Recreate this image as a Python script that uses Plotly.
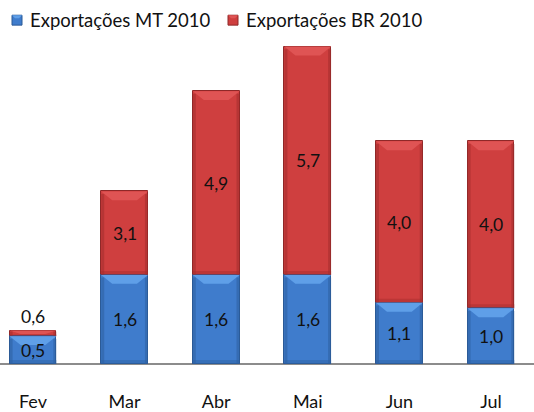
import plotly.graph_objects as go

# Monthly exports, 2010 (Mato Grosso vs. Brazil total)
months = ["Fev", "Mar", "Abr", "Mai", "Jun", "Jul"]
exp_mt = [0.5, 1.6, 1.6, 1.6, 1.1, 1.0]
exp_br = [0.6, 3.1, 4.9, 5.7, 4.0, 4.0]
series_names = ["Exportações MT 2010", "Exportações BR 2010"]

def fmt(v):
    return f"{v:.1f}".replace(".", ",")

W, H = 534, 412
M_T, M_B = 40, 45
PLOT_H = H - M_T - M_B

xs = list(range(len(months)))
BAR_W = 0.51
PX_X = 91.6   # pixels per category unit
PX_Y = 56.2   # pixels per value unit
FONT = "Lato, Open Sans, sans-serif"

blue = dict(main="#3f7ccc", light="#5f9fe8", dark="#2d5f9f", line="#2b5a96")
red = dict(main="#cf3f3f", light="#df5454", dark="#a32d2d", line="#8f2828")

fig = go.Figure()
fig.add_trace(go.Bar(
    x=xs, y=exp_br, name=series_names[1], width=BAR_W,
    marker=dict(color=red["main"], line=dict(color=red["line"], width=1)),
    showlegend=False, hoverinfo="skip",
))
fig.add_trace(go.Bar(
    x=xs, y=exp_mt, name=series_names[0], width=BAR_W,
    marker=dict(color=blue["main"], line=dict(color=blue["line"], width=1)),
    showlegend=False, hoverinfo="skip",
))

shapes = []

def bevel(xc, y0, y1, pal):
    """Light top facet, dark side and bottom strips for one bar segment."""
    h = y1 - y0
    x0, x1 = xc - BAR_W / 2, xc + BAR_W / 2
    d = min(9 / PX_Y, h * 0.6)
    ix = 11 / PX_X
    sx = 3 / PX_X
    bd = min(4 / PX_Y, h * 0.3)
    shapes.append(dict(type="path", xref="x", yref="y", layer="above",
                       path=f"M{x0},{y1} L{x1},{y1} L{x1-ix},{y1-d} L{x0+ix},{y1-d} Z",
                       fillcolor=pal["light"], line=dict(width=0)))
    shapes.append(dict(type="rect", xref="x", yref="y", layer="above",
                       x0=x0, x1=x0 + sx, y0=y0, y1=y1 - d * 0.3,
                       fillcolor=pal["dark"], opacity=0.55, line=dict(width=0)))
    shapes.append(dict(type="rect", xref="x", yref="y", layer="above",
                       x0=x1 - sx, x1=x1, y0=y0, y1=y1 - d * 0.3,
                       fillcolor=pal["dark"], opacity=0.55, line=dict(width=0)))
    shapes.append(dict(type="rect", xref="x", yref="y", layer="above",
                       x0=x0, x1=x1, y0=y0, y1=y0 + bd,
                       fillcolor=pal["dark"], opacity=0.45, line=dict(width=0)))

annotations = []
LABEL_FONT = dict(family=FONT, size=17.5, color="#111111")
for x, mt, br in zip(xs, exp_mt, exp_br):
    bevel(x, mt, br, red)
    bevel(x, 0, mt, blue)
    annotations.append(dict(x=x, y=mt / 2, text=fmt(mt), showarrow=False,
                            font=LABEL_FONT))
    if br - mt < 0.4:
        annotations.append(dict(x=x, y=br, yshift=14, text=fmt(br), showarrow=False,
                                font=LABEL_FONT))
    else:
        annotations.append(dict(x=x, y=(mt + br) / 2, text=fmt(br), showarrow=False,
                                font=LABEL_FONT))

# Legend row across the top: beveled swatch + series name
def px_x(p):
    return p / W

def px_y(p):
    return (H - M_B - p) / PLOT_H

for (sx0, tx0), name, pal in zip([(12, 28), (228, 244)], series_names, [blue, red]):
    shapes.append(dict(type="rect", xref="paper", yref="paper",
                       x0=px_x(sx0), x1=px_x(sx0 + 10), y0=px_y(25), y1=px_y(15),
                       fillcolor=pal["main"], line=dict(color=pal["line"], width=1)))
    shapes.append(dict(type="path", xref="paper", yref="paper",
                       path=(f"M{px_x(sx0)},{px_y(15)} L{px_x(sx0 + 10)},{px_y(15)} "
                             f"L{px_x(sx0 + 7)},{px_y(18)} L{px_x(sx0 + 3)},{px_y(18)} Z"),
                       fillcolor=pal["light"], line=dict(width=0)))
    annotations.append(dict(x=px_x(tx0), y=px_y(20), xref="paper", yref="paper",
                            xanchor="left", yanchor="middle", text=name, showarrow=False,
                            font=dict(family=FONT, size=18.5, color="#111111")))

fig.update_layout(
    width=W, height=H,
    barmode="overlay",
    plot_bgcolor="white", paper_bgcolor="white",
    margin=dict(l=0, r=0, t=M_T, b=M_B),
    font=dict(family=FONT, size=17, color="#111111"),
    shapes=shapes, annotations=annotations,
    showlegend=False,
    bargap=0,
)
fig.update_xaxes(range=[-0.36, 5.47], tickvals=xs, ticktext=months,
                 showgrid=False, zeroline=False, showline=False,
                 ticks="", ticklabelstandoff=25, tickfont=dict(size=18))
fig.update_yaxes(range=[0, PLOT_H / PX_Y], showticklabels=False, showgrid=False,
                 zeroline=True, zerolinecolor="#8c8c8c", zerolinewidth=2,
                 showline=False)

fig.write_html("out.html")
